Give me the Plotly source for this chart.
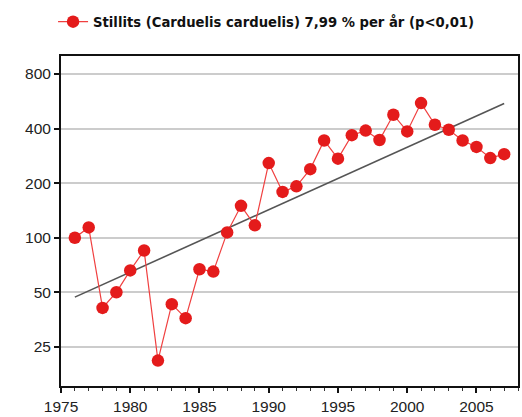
import plotly.graph_objects as go
import math

years = list(range(1976, 2008))
values = [100, 114, 41, 50, 66, 85, 21, 43, 36, 67, 65, 107, 150, 117, 258, 179,
          192, 239, 344, 273, 368, 390, 346, 477, 386, 553, 420, 394, 344, 317, 275, 289]
trend_years = [1976, 2007]
trend_values = [47, 550]
y_ticks = [25, 50, 100, 200, 400, 800]
x_ticks = [1975, 1980, 1985, 1990, 1995, 2000, 2005]
series_name = "Stillits (Carduelis carduelis) 7,99 % per år (p<0,01)"

fig = go.Figure()
fig.add_trace(go.Scatter(
    x=trend_years, y=trend_values, mode="lines",
    line=dict(color="#555555", width=1.6), showlegend=False, hoverinfo="skip"))
fig.add_trace(go.Scatter(
    x=years, y=values, mode="lines+markers", name=series_name,
    line=dict(color="#f04040", width=1.2),
    marker=dict(color="#e41b1b", size=12.5, line=dict(width=0))))

fig.update_layout(
    width=522, height=417,
    margin=dict(l=61, r=2, t=56, b=30),
    plot_bgcolor="white", paper_bgcolor="white",
    font=dict(family="Liberation Sans, Arial, sans-serif", color="#222222"),
    legend=dict(orientation="h", x=-0.0174, y=0.947, xanchor="left", yanchor="middle",
                yref="container", font=dict(family="DejaVu Sans", size=13.2, color="#111111", weight="bold"),
                itemwidth=30, bgcolor="rgba(0,0,0,0)"),
    showlegend=True,
)

fig.update_xaxes(
    range=[1975, 2008], tickvals=x_ticks, ticks="outside", ticklen=5, tickwidth=1.5,
    tickcolor="#111111", showline=True, linecolor="#111111", linewidth=2, mirror=True,
    showgrid=False, zeroline=False, tickfont=dict(size=15.5, color="#222222"),
    minor=dict(dtick=1, ticks="outside", ticklen=3, tickcolor="#333333", tickwidth=1, showgrid=False))
fig.update_yaxes(
    type="log", range=[math.log10(15.2), math.log10(1006)], tickvals=y_ticks,
    ticktext=[str(v) for v in y_ticks], ticks="outside", ticklen=5, tickwidth=1.5,
    tickcolor="#111111", showline=True, linecolor="#111111", linewidth=2, mirror=True,
    showgrid=True, gridcolor="#cccccc", gridwidth=1.5, zeroline=False,
    tickfont=dict(size=15.5, color="#222222"))

fig.write_html("out.html", config={"displayModeBar": False},
               post_script="document.body.style.margin='0';document.body.style.overflow='hidden';")
